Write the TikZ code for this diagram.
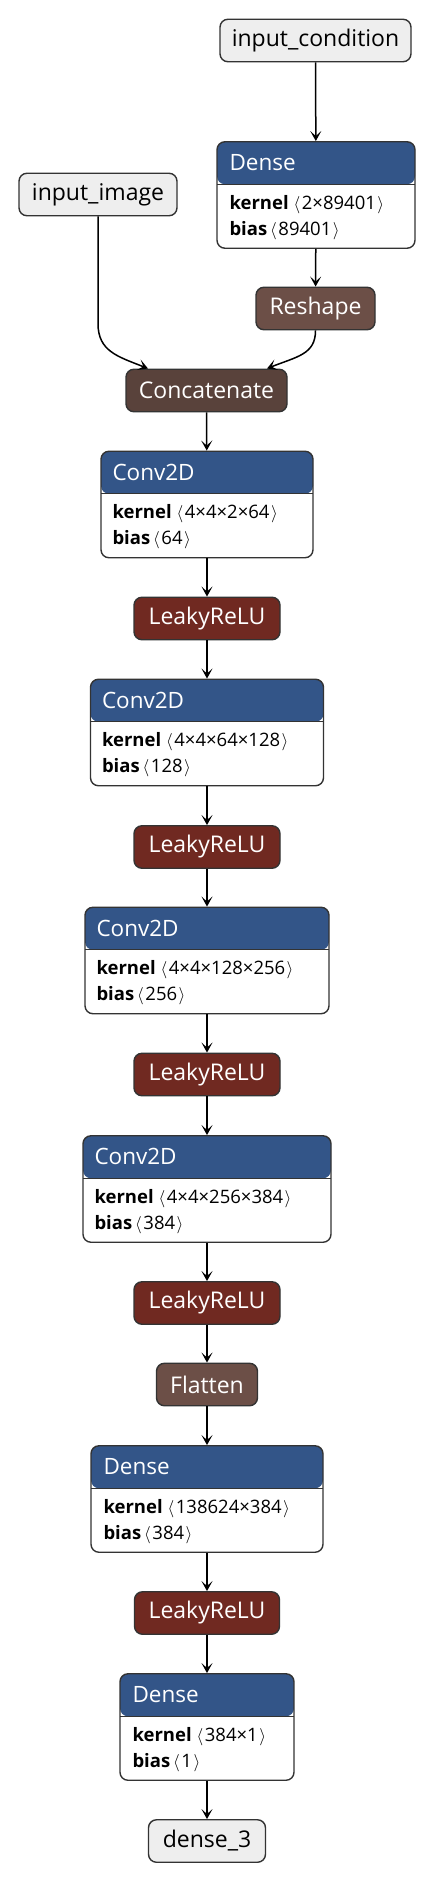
\documentclass[tikz,border=0pt]{standalone}
\usepackage{fontspec}
\setmainfont{Open Sans}
\usetikzlibrary{arrows.meta}

\definecolor{hdrblue}{HTML}{335588}
\definecolor{actred}{HTML}{702921}
\definecolor{shapebrown}{HTML}{6C4F47}
\definecolor{tensorbrown}{HTML}{59423B}
\definecolor{inputgray}{HTML}{EEEEEE}
\definecolor{edgegray}{HTML}{333333}

\begin{document}
\begin{tikzpicture}[x=1pt, y=-1pt,
  op/.style={draw=edgegray, line width=1.4pt, rounded corners=8pt, minimum height=42.5pt, inner sep=0pt, text=white, font=\fontsize{23}{27}\selectfont},
  io/.style={op, fill=inputgray, text=black},
  act/.style={op, fill=actred},
  reshapebox/.style={op, fill=shapebrown},
  tensorbox/.style={op, fill=tensorbrown},
  layer/.style={draw=edgegray, line width=1.4pt, fill=white, rounded corners=8pt, minimum height=106.5pt, inner sep=0pt,
    path picture={
      \fill[hdrblue] (path picture bounding box.north west) rectangle ([yshift=-42.5pt]path picture bounding box.north east);
      \draw[edgegray, line width=1.4pt] ([yshift=-42.5pt]path picture bounding box.north west) -- ([yshift=-42.5pt]path picture bounding box.north east);
    }},
  title/.style={anchor=west, inner sep=0pt, text=white, font=\fontsize{22.5}{27}\selectfont},
  attr/.style={anchor=base west, inner sep=0pt, font=\fontsize{18.5}{22}\selectfont},
  arrow/.style={-{Stealth[length=10pt, width=11pt, inset=5pt]}, line width=1.5pt, black}
]
\useasboundingbox (0,0) rectangle (436,1882);

% inputs and condition branch
\node[io, minimum width=191pt] (cond) at (315.5,40.5) {input\_condition};
\node[layer, minimum width=198pt] (dense1) at (316,195) {};
\node[title] at ([xshift=13pt, yshift=-21.5pt]dense1.north west) {Dense};
\node[attr] at ([xshift=13pt, yshift=-68pt]dense1.north west) {\textbf{kernel}\hspace{5pt}$\langle$\hspace{1.5pt}2×89401\hspace{1.5pt}$\rangle$};
\node[attr] at ([xshift=13pt, yshift=-94pt]dense1.north west) {\textbf{bias}\hspace{3pt}$\langle$\hspace{1.5pt}89401\hspace{1.5pt}$\rangle$};
\node[io, minimum width=158pt] (img) at (98,194.5) {input\_image};
\node[reshapebox, minimum width=119pt] (reshape) at (315.5,308.5) {Reshape};
\node[tensorbox, minimum width=161pt] (concat) at (206.5,390.5) {Concatenate};

% main column
\node[layer, minimum width=212pt] (conv1) at (207,504.5) {};
\node[title] at ([xshift=12pt, yshift=-21.5pt]conv1.north west) {Conv2D};
\node[attr] at ([xshift=12pt, yshift=-68pt]conv1.north west) {\textbf{kernel}\hspace{5pt}$\langle$\hspace{1.5pt}4×4×2×64\hspace{1.5pt}$\rangle$};
\node[attr] at ([xshift=12pt, yshift=-94pt]conv1.north west) {\textbf{bias}\hspace{3pt}$\langle$\hspace{1.5pt}64\hspace{1.5pt}$\rangle$};
\node[act, minimum width=146pt] (leaky1) at (207,618.5) {LeakyReLU};

\node[layer, minimum width=233pt] (conv2) at (207,732.5) {};
\node[title] at ([xshift=12pt, yshift=-21.5pt]conv2.north west) {Conv2D};
\node[attr] at ([xshift=12pt, yshift=-68pt]conv2.north west) {\textbf{kernel}\hspace{5pt}$\langle$\hspace{1.5pt}4×4×64×128\hspace{1.5pt}$\rangle$};
\node[attr] at ([xshift=12pt, yshift=-94pt]conv2.north west) {\textbf{bias}\hspace{3pt}$\langle$\hspace{1.5pt}128\hspace{1.5pt}$\rangle$};
\node[act, minimum width=146pt] (leaky2) at (207,847) {LeakyReLU};

\node[layer, minimum width=244pt] (conv3) at (207,960.5) {};
\node[title] at ([xshift=12pt, yshift=-21.5pt]conv3.north west) {Conv2D};
\node[attr] at ([xshift=12pt, yshift=-68pt]conv3.north west) {\textbf{kernel}\hspace{5pt}$\langle$\hspace{1.5pt}4×4×128×256\hspace{1.5pt}$\rangle$};
\node[attr] at ([xshift=12pt, yshift=-94pt]conv3.north west) {\textbf{bias}\hspace{3pt}$\langle$\hspace{1.5pt}256\hspace{1.5pt}$\rangle$};
\node[act, minimum width=146pt] (leaky3) at (207,1074.5) {LeakyReLU};

\node[layer, minimum width=248pt] (conv4) at (207,1189) {};
\node[title] at ([xshift=12pt, yshift=-21.5pt]conv4.north west) {Conv2D};
\node[attr] at ([xshift=12pt, yshift=-68pt]conv4.north west) {\textbf{kernel}\hspace{5pt}$\langle$\hspace{1.5pt}4×4×256×384\hspace{1.5pt}$\rangle$};
\node[attr] at ([xshift=12pt, yshift=-94pt]conv4.north west) {\textbf{bias}\hspace{3pt}$\langle$\hspace{1.5pt}384\hspace{1.5pt}$\rangle$};
\node[act, minimum width=146pt] (leaky4) at (207,1303) {LeakyReLU};
\node[reshapebox, minimum width=101pt] (flatten) at (207,1384.5) {Flatten};

\node[layer, minimum width=232pt] (dense2) at (207,1499) {};
\node[title] at ([xshift=13pt, yshift=-21.5pt]dense2.north west) {Dense};
\node[attr] at ([xshift=13pt, yshift=-68pt]dense2.north west) {\textbf{kernel}\hspace{5pt}$\langle$\hspace{1.5pt}138624×384\hspace{1.5pt}$\rangle$};
\node[attr] at ([xshift=13pt, yshift=-94pt]dense2.north west) {\textbf{bias}\hspace{3pt}$\langle$\hspace{1.5pt}384\hspace{1.5pt}$\rangle$};
\node[act, minimum width=145pt] (leaky5) at (207,1613) {LeakyReLU};

\node[layer, minimum width=174pt] (dense3) at (207,1727) {};
\node[title] at ([xshift=13pt, yshift=-21.5pt]dense3.north west) {Dense};
\node[attr] at ([xshift=13pt, yshift=-68pt]dense3.north west) {\textbf{kernel}\hspace{5pt}$\langle$\hspace{1.5pt}384×1\hspace{1.5pt}$\rangle$};
\node[attr] at ([xshift=13pt, yshift=-94pt]dense3.north west) {\textbf{bias}\hspace{3pt}$\langle$\hspace{1.5pt}1\hspace{1.5pt}$\rangle$};
\node[io, minimum width=117pt] (out) at (207,1841) {dense\_3};

% connectors
\draw[arrow] (cond) -- (dense1);
\draw[arrow] (dense1) -- (reshape);
\draw[arrow] (img.south) -- ++(0,107) .. controls +(0,28) and +(-30,-12) .. ([xshift=-58.5pt]concat.north);
\draw[arrow] (reshape.south) .. controls +(0,24) and +(30,-12) .. ([xshift=60.5pt]concat.north);
\draw[arrow] (concat) -- (conv1);
\draw[arrow] (conv1) -- (leaky1);
\draw[arrow] (leaky1) -- (conv2);
\draw[arrow] (conv2) -- (leaky2);
\draw[arrow] (leaky2) -- (conv3);
\draw[arrow] (conv3) -- (leaky3);
\draw[arrow] (leaky3) -- (conv4);
\draw[arrow] (conv4) -- (leaky4);
\draw[arrow] (leaky4) -- (flatten);
\draw[arrow] (flatten) -- (dense2);
\draw[arrow] (dense2) -- (leaky5);
\draw[arrow] (leaky5) -- (dense3);
\draw[arrow] (dense3) -- (out);
\end{tikzpicture}
\end{document}
